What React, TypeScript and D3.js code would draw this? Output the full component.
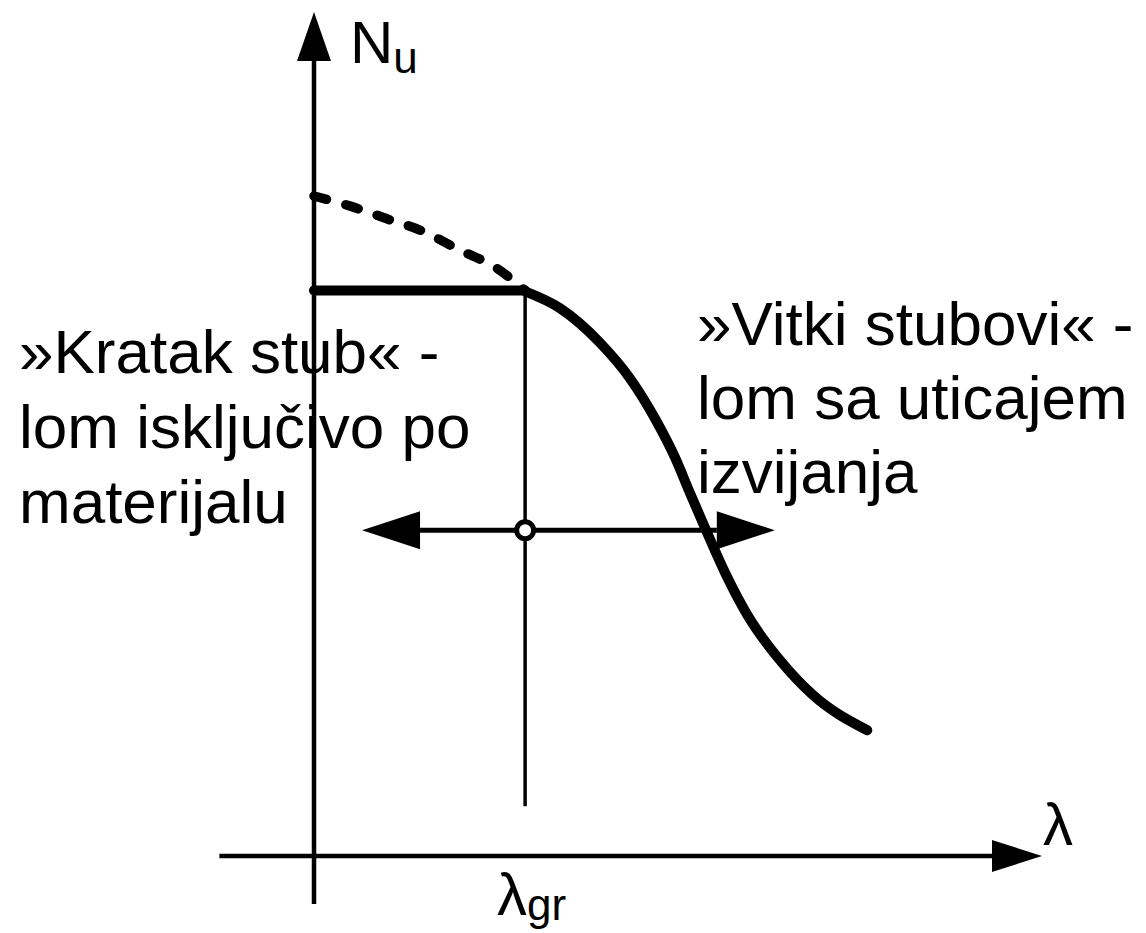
import React from "react";
import * as d3 from "d3";

// ---- data (chart units: λ on x, N on y, 0..100) ----
const LAMBDA_GR = 29;
const N_PLATEAU = 67;
const N_ARROW = 38.6;
const ARROW_LEFT = 6.6;
const ARROW_RIGHT = 63.3;

const dashedLambda = [0, 5, 10, 15, 20, 25, 29];
const dashedN = [78.2, 77.0, 75.5, 74.0, 71.8, 69.7, 67];

const bucklingLambda = [29, 33.8, 39.3, 43.4, 46.8, 49.6, 51.6, 54.0, 56.5, 59.5, 64.0, 68.5, 76.0];
const bucklingN = [66.9, 64.9, 60.8, 56.6, 51.9, 47.2, 43.1, 38.3, 33.5, 28.6, 23.2, 19.1, 14.9];

const leftLines = ["»Kratak stub« -", "lom isključivo po", "materijalu"];
const rightLines = ["»Vitki stubovi« -", "lom sa uticajem", "izvijanja"];

const W = 1146;
const H = 933;
const FONT = "'Liberation Sans', Arial, Helvetica, sans-serif";

export default function App() {
  const x = d3.scaleLinear().domain([0, 100]).range([314, 1042]);
  const y = d3.scaleLinear().domain([0, 100]).range([856, 12]);

  const line = d3
    .line<[number, number]>()
    .x((d) => x(d[0]))
    .y((d) => y(d[1]))
    .curve(d3.curveMonotoneX);

  const dashed = line(dashedLambda.map((l, i) => [l, dashedN[i]]));
  const buckling = line(bucklingLambda.map((l, i) => [l, bucklingN[i]]));

  const x0 = x(0);
  const y0 = y(0);
  const yTop = y(100);
  const xEnd = x(100);
  const xgr = x(LAMBDA_GR);
  const ya = y(N_ARROW);
  const al = x(ARROW_LEFT);
  const ar = x(ARROW_RIGHT);

  return (
    <svg
      width={W}
      height={H}
      viewBox={`0 0 ${W} ${H}`}
      style={{ position: "absolute", left: 0, top: 0, background: "#fff" }}
    >
      <rect width={W} height={H} fill="#fff" />
      {/* vertical axis */}
      <line x1={x0} y1={y(-5.7)} x2={x0} y2={yTop + 49} stroke="#000" strokeWidth={4.5} />
      <polygon points={`${x0},${yTop} ${x0 - 17},${yTop + 49} ${x0 + 17},${yTop + 49}`} fill="#000" />
      {/* horizontal axis */}
      <line x1={x(-13)} y1={y0} x2={xEnd - 50} y2={y0} stroke="#000" strokeWidth={4.5} />
      <polygon points={`${xEnd},${y0} ${xEnd - 50},${y0 - 16} ${xEnd - 50},${y0 + 16}`} fill="#000" />

      {/* lambda_gr vertical line */}
      <line x1={xgr} y1={y(N_PLATEAU)} x2={xgr} y2={y(5.9)} stroke="#000" strokeWidth={3.5} />

      {/* dashed curve */}
      <path
        d={dashed || ""}
        fill="none"
        stroke="#000"
        strokeWidth={9.5}
        strokeDasharray="13 20"
        strokeLinecap="round"
      />
      {/* plateau */}
      <line
        x1={x0}
        y1={y(N_PLATEAU)}
        x2={xgr}
        y2={y(N_PLATEAU)}
        stroke="#000"
        strokeWidth={10}
        strokeLinecap="round"
      />
      {/* buckling curve */}
      <path
        d={buckling || ""}
        fill="none"
        stroke="#000"
        strokeWidth={10}
        strokeLinecap="round"
        strokeLinejoin="round"
      />

      {/* double arrow */}
      <line x1={al + 58} y1={ya} x2={ar - 58} y2={ya} stroke="#000" strokeWidth={5} />
      <polygon points={`${al},${ya} ${al + 58},${ya - 19} ${al + 58},${ya + 19}`} fill="#000" />
      <polygon points={`${ar},${ya} ${ar - 58},${ya - 19} ${ar - 58},${ya + 19}`} fill="#000" />
      <circle cx={xgr} cy={ya} r={8.5} fill="#fff" stroke="#000" strokeWidth={5} />

      {/* labels */}
      <text x={350} y={63} fontFamily={FONT} fontSize={60} fill="#000">
        N
        <tspan fontSize={44} dy={10}>u</tspan>
      </text>
      <text x={1043} y={845} fontFamily={FONT} fontSize={60} fill="#000">λ</text>
      <text x={497} y={915} fontFamily={FONT} fontSize={60} fill="#000">
        λ
        <tspan fontSize={44} dy={5}>gr</tspan>
      </text>

      {leftLines.map((t, i) => (
        <text key={t} x={19} y={373 + i * 75} fontFamily={FONT} fontSize={62} fill="#000">
          {t}
        </text>
      ))}
      {rightLines.map((t, i) => (
        <text key={t} x={697} y={345 + i * 74} fontFamily={FONT} fontSize={62} fill="#000">
          {t}
        </text>
      ))}
    </svg>
  );
}
